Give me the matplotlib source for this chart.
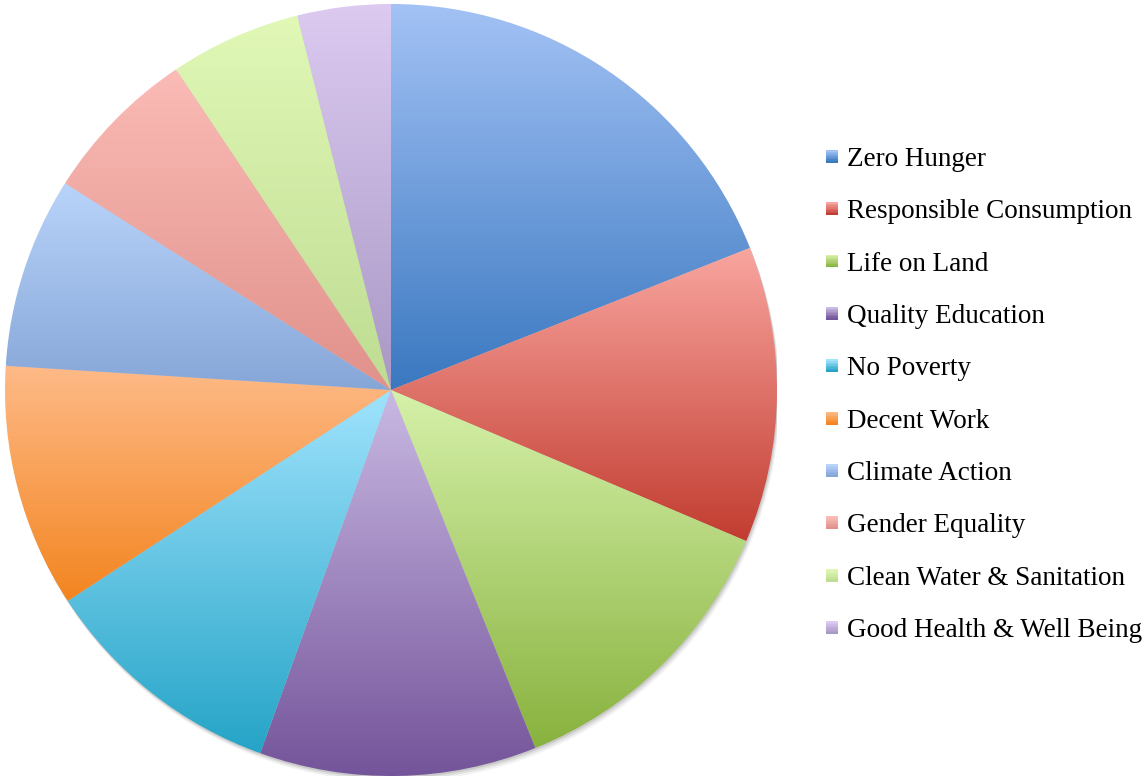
import numpy as np
import matplotlib
matplotlib.use("Agg")
import matplotlib.pyplot as plt
from matplotlib.colors import LinearSegmentedColormap
from matplotlib.patches import Rectangle, Circle
from matplotlib.legend_handler import HandlerBase

# shares (percent), clockwise from 12 o'clock
labels = ["Zero Hunger", "Responsible Consumption", "Life on Land", "Quality Education",
          "No Poverty", "Decent Work", "Climate Action", "Gender Equality",
          "Clean Water & Sanitation", "Good Health & Well Being"]
shares = [19.0, 12.4, 12.5, 11.6, 10.3, 10.2, 8.0, 6.6, 5.5, 3.9]

# gradient colours per slice: (top, bottom)
tops = ["#a3c2f5", "#f9a6a0", "#d6f1aa", "#c9b9e3", "#a0e3fd",
        "#feba88", "#b9d4fa", "#fbbbb6", "#e1f8b6", "#dccaf1"]
bottoms = ["#3a78c0", "#c23c30", "#88b23e", "#74549a", "#25a4c7",
           "#f38520", "#86a6d8", "#e0918a", "#bedc92", "#a898c4"]

W, H = 1144, 780
fig = plt.figure(figsize=(W / 100, H / 100), dpi=100)

cx, cy, r = 391, 390, 386
ax = fig.add_axes([(cx - r) / W, (H - cy - r) / H, 2 * r / W, 2 * r / H])

# soft shadow behind the pie
for k, a in [(6, 0.05), (4, 0.07), (2, 0.10)]:
    ax.add_patch(Circle((k * 0.0012, -k * 0.0025), 1.0, color="black", alpha=a, lw=0, zorder=0))

wedges, _ = ax.pie(shares, startangle=90, counterclock=False, radius=1.0,
                   wedgeprops=dict(linewidth=0))

grad = np.linspace(1, 0, 256).reshape(-1, 1)
for w, top, bot in zip(wedges, tops, bottoms):
    w.set_facecolor("none")
    verts = w.get_path().vertices
    x0, x1 = verts[:, 0].min(), verts[:, 0].max()
    y0, y1 = verts[:, 1].min(), verts[:, 1].max()
    cmap = LinearSegmentedColormap.from_list("g", [bot, top])
    im = ax.imshow(grad, cmap=cmap, extent=(x0, x1, y0, y1), origin="upper",
                   aspect="auto", interpolation="bilinear", zorder=1)
    im.set_clip_path(w)

ax.set_xlim(-1, 1)
ax.set_ylim(-1, 1)
ax.set_aspect("equal")
ax.axis("off")


class GradHandler(HandlerBase):
    def __init__(self, top, bot):
        super().__init__()
        self.top, self.bot = top, bot

    def create_artists(self, legend, orig_handle, xdescent, ydescent, width, height, fontsize, trans):
        cmap = LinearSegmentedColormap.from_list("g", [self.top, self.bot])
        n = 8
        s = 9.0  # points, ~12 px
        x = -xdescent
        y = -ydescent + (height - s) / 2
        arts = []
        for i in range(n):
            arts.append(Rectangle((x, y + s - (i + 1) * s / n), s, s / n + 0.2,
                                  facecolor=cmap(i / (n - 1)), lw=0, transform=trans))
        return arts


handles = [Rectangle((0, 0), 1, 1) for _ in labels]
hmap = {h: GradHandler(t, b) for h, t, b in zip(handles, tops, bottoms)}
leg = fig.legend(handles, labels, handler_map=hmap, loc="upper left",
                 bbox_to_anchor=(826 / W, 1 - 147 / H), frameon=False,
                 prop=dict(family="Liberation Serif", size=19.5),
                 handlelength=0.46, handleheight=0.7, handletextpad=0.33,
                 labelspacing=1.01, borderaxespad=0, borderpad=0)

fig.savefig("out.png", dpi=100)
